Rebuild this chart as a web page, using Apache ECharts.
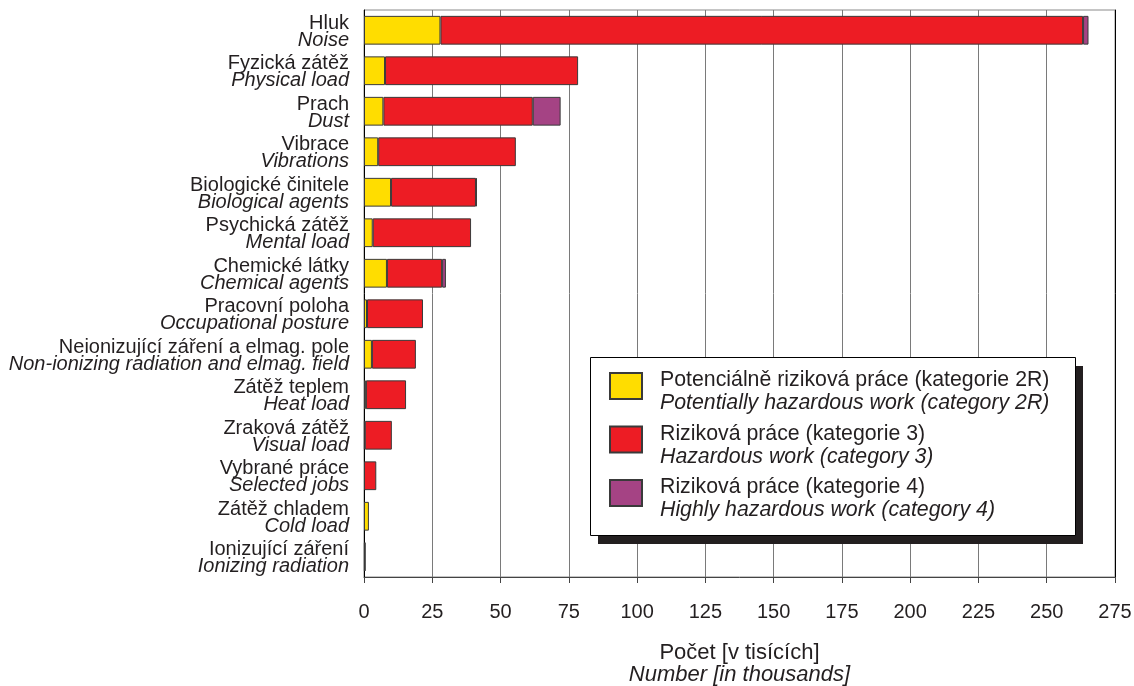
<!DOCTYPE html>
<html>
<head>
<meta charset="utf-8">
<script src="https://cdn.jsdelivr.net/npm/echarts@6/dist/echarts.min.js"></script>
<style>
html,body{margin:0;padding:0;background:#fff;}
#c{width:1134px;height:686px;}
</style>
</head>
<body>
<div id="c"></div>
<script>
const categoriesCz = ["Hluk","Fyzická zátěž","Prach","Vibrace","Biologické činitele","Psychická zátěž","Chemické látky","Pracovní poloha","Neionizující záření a elmag. pole","Zátěž teplem","Zraková zátěž","Vybrané práce","Zátěž chladem","Ionizující záření"];
const categoriesEn = ["Noise","Physical load","Dust","Vibrations","Biological agents","Mental load","Chemical agents","Occupational posture","Non-ionizing radiation and elmag. field","Heat load","Visual load","Selected jobs","Cold load","Ionizing radiation"];
const cat2R = [28.0, 7.7, 7.1, 5.2, 9.9, 3.2, 8.4, 1.1, 2.9, 0.7, 0.3, 0, 1.8, 0.3];
const cat3 = [235.3, 70.7, 54.7, 50.4, 31.1, 36.0, 20.2, 20.5, 16.1, 14.7, 9.9, 4.5, 0, 0.2];
const cat4 = [2.0, 0, 10.2, 0, 0.3, 0, 1.4, 0, 0, 0, 0, 0, 0, 0];
const seriesCz = ["Potenciálně riziková práce (kategorie 2R)","Riziková práce (kategorie 3)","Riziková práce (kategorie 4)"];
const seriesEn = ["Potentially hazardous work (category 2R)","Hazardous work (category 3)","Highly hazardous work (category 4)"];
const seriesColors = ["#FFDD00","#ED1C24","#A54384"];
const xMin = 0, xMax = 275, xStep = 25;
const axisNameCz = "Počet [v tisících]";
const axisNameEn = "Number [in thousands]";

const FONT = '"Liberation Sans", Arial, sans-serif';
const TXT = '#231f20';
const catKeys = categoriesCz.map((c, i) => c + '|' + categoriesEn[i]);
const values = [cat2R, cat3, cat4];

const chart = echarts.init(document.getElementById('c'), null, {renderer: 'canvas'});
chart.setOption({
  animation: false,
  backgroundColor: '#fff',
  textStyle: {fontFamily: FONT, color: TXT},
  grid: {left: 364, top: 10, width: 751, bottom: 109, show: true, borderColor: '#8a8a8a', borderWidth: 1,
         containLabel: false, outerBoundsMode: 'none'},
  xAxis: {
    type: 'value', min: xMin, max: xMax, interval: xStep,
    axisLine: {show: true, lineStyle: {color: '#444', width: 1}},
    axisTick: {show: true, length: 6, lineStyle: {color: '#444'}},
    splitLine: {show: true, lineStyle: {color: '#7a7a7a', width: 1}},
    axisLabel: {fontSize: 20, color: TXT, margin: 25, fontFamily: FONT},
    name: '{a|' + axisNameCz + '}\n{b|' + axisNameEn + '}',
    nameLocation: 'middle', nameGap: 65,
    nameTextStyle: {
      fontFamily: FONT, color: TXT, fontSize: 22, lineHeight: 22,
      rich: {
        a: {fontSize: 22, lineHeight: 22, color: TXT, fontFamily: FONT},
        b: {fontSize: 22, lineHeight: 22, color: TXT, fontFamily: FONT, fontStyle: 'italic'}
      }
    }
  },
  yAxis: [{
    type: 'category', data: catKeys, inverse: true,
    axisLine: {show: true, lineStyle: {color: '#000', width: 1}},
    axisTick: {show: false},
    splitLine: {show: false},
    axisLabel: {
      margin: 15, color: TXT, fontFamily: FONT, padding: [3, 0, 0, 0],
      formatter: function (v) { const p = v.split('|'); return '{a|' + p[0] + '}\n{b|' + p[1] + '}'; },
      rich: {
        a: {fontSize: 20, lineHeight: 17, color: TXT, fontFamily: FONT, align: 'right'},
        b: {fontSize: 20, lineHeight: 17, color: TXT, fontFamily: FONT, fontStyle: 'italic', align: 'right'}
      }
    }
  }, {
    type: 'category', data: catKeys, inverse: true, position: 'right',
    axisLine: {show: true, lineStyle: {color: '#000', width: 1}},
    axisTick: {show: false}, axisLabel: {show: false}, splitLine: {show: false}
  }],
  graphic: [
    {type: 'rect', z: 50, silent: true, shape: {x: 598, y: 366, width: 485, height: 178}, style: {fill: '#231f20'}},
    {type: 'rect', z: 51, silent: true, shape: {x: 590.5, y: 357.5, width: 485, height: 178}, style: {fill: '#fff', stroke: '#000', lineWidth: 1}}
  ],
  legend: {
    left: 609, top: 370, orient: 'vertical', z: 60,
    padding: 0,
    icon: 'path://M0,0L32,0L32,26L0,26ZM0,38',
    itemWidth: 32, itemHeight: 38, itemGap: 9.5,
    data: seriesCz,
    formatter: function (name) { const i = seriesCz.indexOf(name); return '{a|' + seriesCz[i] + '}\n{b|' + seriesEn[i] + '}'; },
    textStyle: {
      color: TXT, fontFamily: FONT, padding: [0, 0, 0, 13],
      rich: {
        a: {fontSize: 21.3, lineHeight: 23, color: TXT, fontFamily: FONT},
        b: {fontSize: 21.3, lineHeight: 23, color: TXT, fontFamily: FONT, fontStyle: 'italic'}
      }
    }
  },
  series: seriesCz.map((name, k) => ({
    name: name, type: 'bar', stack: 'total',
    barCategoryGap: '29%',
    itemStyle: {color: seriesColors[k], borderColor: '#3a3a3a', borderWidth: 1},
    data: values[k].map(v => v === 0 ? '-' : v)
  }))
});
</script>
</body>
</html>
